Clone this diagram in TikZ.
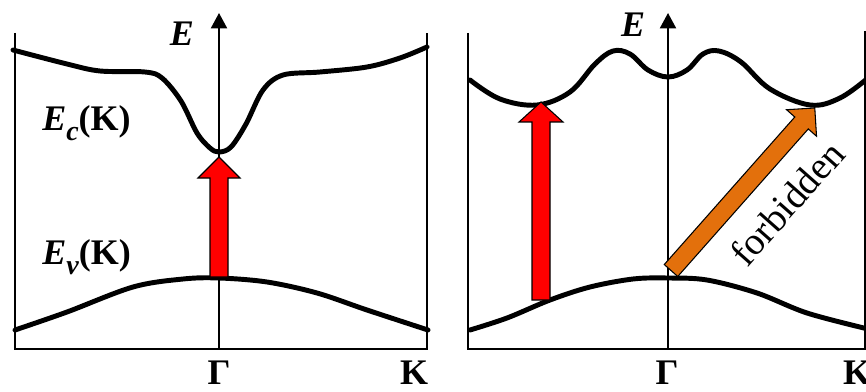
\documentclass[tikz,border=0pt]{standalone}
\usepackage{fontspec}
\setmainfont{Liberation Serif}
\usetikzlibrary{arrows.meta}
\definecolor{forbidorange}{RGB}{227,112,12}
\tikzset{
  band/.style={line width=3.7pt,line join=round,line cap=round},
  frame/.style={line width=2.2pt},
  axis/.style={line width=1.5pt,-{Triangle[length=11.5pt,width=12pt]}},
  lbl/.style={font=\fontsize{27}{31}\selectfont\bfseries,inner sep=0pt},
  blockarrow/.style={draw=black,line width=0.8pt,line join=miter},
}
\newcommand{\Eband}[1]{\textit{E}\raisebox{-0.26em}{\fontsize{21}{24}\selectfont\textit{#1}}(K)}

\begin{document}
\begin{tikzpicture}[x=0.75pt,y=-0.75pt]
  \useasboundingbox (0,0) rectangle (866,392);
  % left panel: direct gap
  \draw[frame] (15,33) -- (15,349) -- (427,349) -- (427,33);
  \draw[axis] (219,349) -- (219,13);
  \node[lbl] (Eleft) at (182,34) {\textit{E}};
  \draw[band] plot[smooth,tension=0.55] coordinates {(13,50) (67,64) (100,71) (145,72) (162,78)
    (181,101) (197,133) (210,148) (219,152) (231,147) (246,124) (263,90) (283,75) (320,72)
    (367,67) (400,58) (427,47)};
  \draw[band] plot[smooth,tension=0.55] coordinates {(15,330) (67,312) (133,287) (183,279)
    (219,278) (267,282) (317,293) (367,310) (428,330)};
  \draw[blockarrow,fill=red] (210,277) -- (210,178) -- (198,178) -- (219,157) -- (240,178)
    -- (228,178) -- (228,277) -- cycle;
  \node[lbl,anchor=west] (Ec) at (42,123) {\Eband{c}};
  \node[lbl,anchor=west] (Ev) at (42,257) {\Eband{v}};
  \node[lbl] (Gleft) at (219,373) {Γ};
  \node[lbl] (Kleft) at (414,373) {K};
  % right panel: indirect gap
  \draw[frame] (468,33) -- (468,349) -- (866,349);
  \draw[frame] (865,31) -- (865,349);
  \draw[axis] (668,349) -- (668,13);
  \node[lbl] (Eright) at (633,25) {\textit{E}};
  \draw[band] plot[smooth,tension=0.6] coordinates {(470,80) (500,99) (537,105) (570,92)
    (595,64) (613,51) (630,54) (648,70) (668,77) (687,70) (703,54) (719,51) (741,62)
    (770,89) (810,105) (840,98) (868,78)};
  \draw[band] plot[smooth,tension=0.55] coordinates {(470,330) (507,318) (550,300) (590,287)
    (633,279) (668,278) (707,280) (757,293) (807,313) (868,329)};
  \draw[blockarrow,fill=red] (532,300) -- (532,122) -- (519,122) -- (541,102) -- (563,122)
    -- (550,122) -- (550,300) -- cycle;
  \begin{scope}[shift={(671,270.5)},rotate=48.5]
    \draw[blockarrow,fill=forbidorange] (0,9) -- (197,9) -- (197,20) -- (217,0) -- (197,-20)
      -- (197,-9) -- (0,-9) -- cycle;
  \end{scope}
  \node[font=\fontsize{29}{32}\selectfont,rotate=48.5,inner sep=0pt] (forb) at (787,203) {forbidden};
  \node[lbl] (Gright) at (667,373) {Γ};
  \node[lbl] (Kright) at (857,373) {K};
\end{tikzpicture}
\end{document}
